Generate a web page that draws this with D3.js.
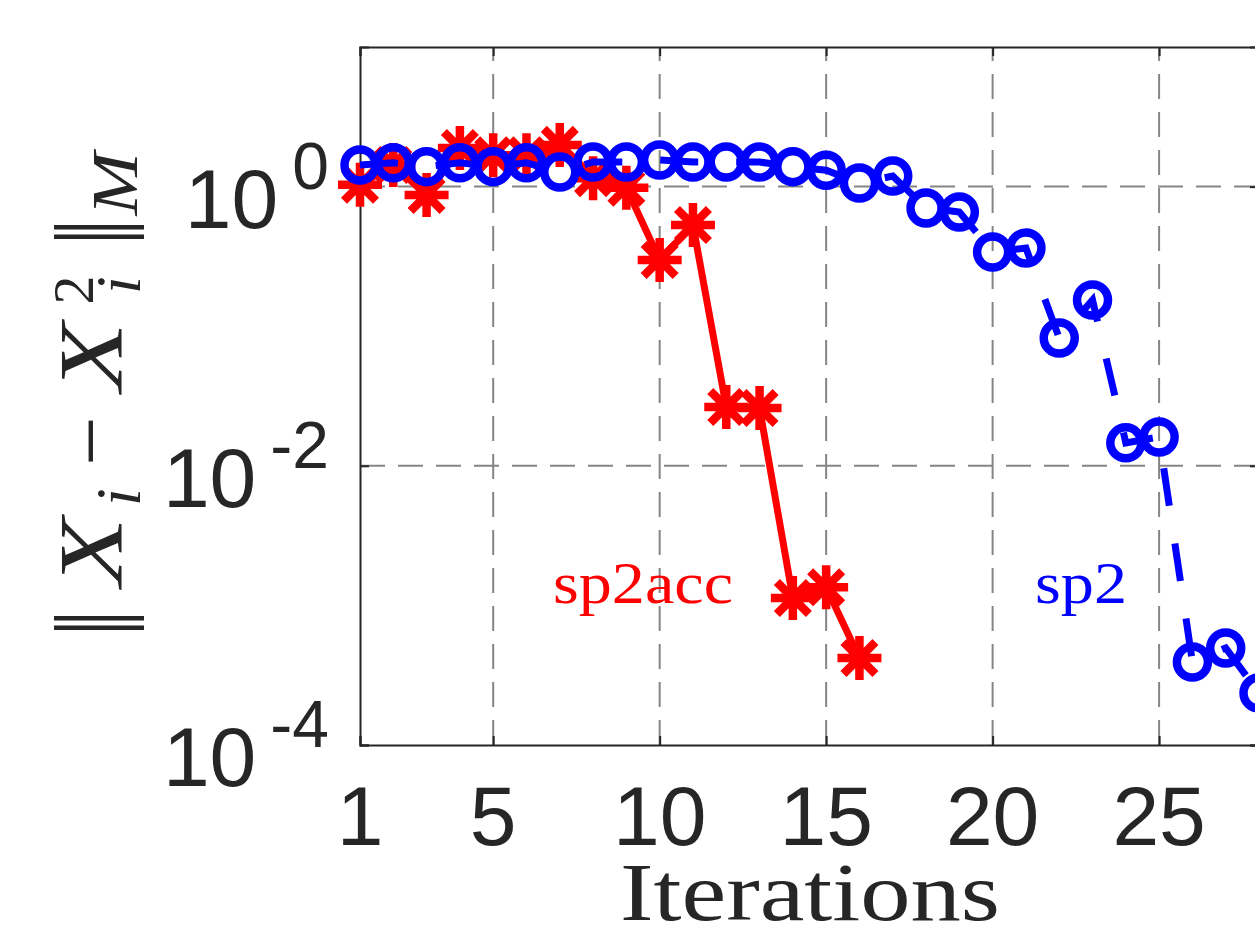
<!DOCTYPE html>
<html>
<head>
<meta charset="utf-8">
<script src="https://cdn.jsdelivr.net/npm/d3@7"></script>
<style>
  body { margin: 0; background: #fff; }
  svg { display: block; }
</style>
</head>
<body>
<svg id="chart" width="1255" height="951"></svg>
<script>
// iterations and residual norms
var itersAcc = [1,2,3,4,5,6,7,8,9,10,11,12,13,14,15,16];
var sp2acc   = [1.03,1.43,0.87,1.89,1.68,1.68,1.99,1.15,0.98,0.298,0.531,0.0264,0.0259,0.00113,0.00135,0.00042];

var itersSp2 = [1,2,3,4,5,6,7,8,9,10,11,12,13,14,15,16,17,18,19,20,21,22,23,24,25,26,27,28];
var sp2      = [1.43,1.48,1.39,1.48,1.39,1.48,1.27,1.50,1.50,1.55,1.50,1.50,1.50,1.39,1.31,1.06,1.19,0.703,0.658,0.340,0.363,0.0823,0.154,0.0146,0.0161,0.000393,0.000495,0.000236];

var xTicks = [1,5,10,15,20,25];
var yTicks = [1e-4,1e-2,1];
var yTickExp = ["-4","-2","0"];

var svg = d3.select("#chart");
var margin = {left: 360, top: 47, right: 1259, bottom: 745};

var x = d3.scaleLinear().domain([1, 28]).range([margin.left, margin.right]);
var y = d3.scaleLog().domain([1e-4, 10]).range([margin.bottom, margin.top]);

var axisColor = "#262626";
var serif = "'Liberation Serif', 'Times New Roman', serif";

/* grid */
var grid = svg.append("g");
grid.selectAll("line.gx")
    .data(xTicks.slice(1))
    .enter().append("line")
    .attr("x1", function(d){ return x(d); })
    .attr("x2", function(d){ return x(d); })
    .attr("y1", margin.bottom)
    .attr("y2", margin.top)
    .attr("stroke", "#858585")
    .attr("stroke-width", 2)
    .attr("stroke-dasharray", "25,13");
grid.selectAll("line.gy")
    .data(yTicks.slice(1))
    .enter().append("line")
    .attr("x1", margin.left)
    .attr("x2", margin.right)
    .attr("y1", function(d){ return y(d); })
    .attr("y2", function(d){ return y(d); })
    .attr("stroke", "#858585")
    .attr("stroke-width", 2)
    .attr("stroke-dasharray", "25,13");

/* axes box + inward ticks */
svg.append("g").attr("transform", "translate(0," + margin.bottom + ")")
    .call(d3.axisTop(x).tickValues(xTicks).tickSize(9).tickFormat(""));
svg.append("g").attr("transform", "translate(0," + margin.top + ")")
    .call(d3.axisBottom(x).tickValues(xTicks).tickSize(9).tickFormat(""));
svg.append("g").attr("transform", "translate(" + margin.left + ",0)")
    .call(d3.axisRight(y).tickValues(yTicks).tickSize(9).tickFormat(""));
svg.append("g").attr("transform", "translate(" + margin.right + ",0)")
    .call(d3.axisLeft(y).tickValues(yTicks).tickSize(9).tickFormat(""));
svg.selectAll(".domain").attr("stroke", axisColor).attr("stroke-width", 2);
svg.selectAll(".tick line").attr("stroke", axisColor).attr("stroke-width", 2);

/* tick labels */
svg.selectAll("text.xt")
    .data(xTicks)
    .enter().append("text")
    .attr("x", function(d){ return x(d); })
    .attr("y", margin.bottom + 100)
    .attr("text-anchor", "middle")
    .attr("font-family", "'Liberation Sans', Arial, sans-serif")
    .attr("font-size", 84)
    .attr("fill", axisColor)
    .text(function(d){ return d; });

var yl = svg.selectAll("text.yt")
    .data(yTicks)
    .enter().append("text")
    .attr("x", 329)
    .attr("y", function(d){ return y(d) + 41; })
    .attr("text-anchor", "end")
    .attr("font-family", "'Liberation Sans', Arial, sans-serif")
    .attr("font-size", 84)
    .attr("fill", axisColor);
yl.append("tspan").text("10");
yl.append("tspan")
    .attr("dx", 14)
    .attr("dy", -39)
    .attr("font-size", 66)
    .text(function(d, i){ return yTickExp[i]; });

/* series */
var line = d3.line()
    .x(function(d){ return x(d[0]); })
    .y(function(d){ return y(d[1]); });

var accData = d3.zip(itersAcc, sp2acc);
var sp2Data = d3.zip(itersSp2, sp2);

svg.append("path")
    .datum(accData)
    .attr("d", line)
    .attr("fill", "none")
    .attr("stroke", "#ff0000")
    .attr("stroke-width", 7);

svg.selectAll("g.star")
    .data(accData)
    .enter().append("path")
    .attr("transform", function(d){ return "translate(" + x(d[0]) + "," + y(d[1]) + ")"; })
    .attr("d", "M-22,0H22M0,-22V22M-16,-16L16,16M-16,16L16,-16")
    .attr("stroke", "#ff0000")
    .attr("stroke-width", 8.5)
    .attr("fill", "none");

svg.append("path")
    .datum(sp2Data)
    .attr("d", line)
    .attr("fill", "none")
    .attr("stroke", "#0000ff")
    .attr("stroke-width", 7)
    .attr("stroke-dasharray", "38,38");

svg.selectAll("circle.mk")
    .data(sp2Data)
    .enter().append("circle")
    .attr("cx", function(d){ return x(d[0]); })
    .attr("cy", function(d){ return y(d[1]); })
    .attr("r", 15.5)
    .attr("fill", "none")
    .attr("stroke", "#0000ff")
    .attr("stroke-width", 8.5);

/* series labels */
svg.append("text")
    .attr("x", 553).attr("y", 603)
    .attr("font-family", serif)
    .attr("font-size", 60)
    .attr("textLength", 180)
    .attr("lengthAdjust", "spacingAndGlyphs")
    .attr("fill", "#ff0000")
    .text("sp2acc");
svg.append("text")
    .attr("x", 1035).attr("y", 603)
    .attr("font-family", serif)
    .attr("font-size", 60)
    .attr("textLength", 92)
    .attr("lengthAdjust", "spacingAndGlyphs")
    .attr("fill", "#0000ff")
    .text("sp2");

/* x label */
svg.append("text")
    .attr("x", 620).attr("y", 920)
    .attr("font-family", serif)
    .attr("font-size", 82)
    .attr("textLength", 380)
    .attr("lengthAdjust", "spacingAndGlyphs")
    .attr("fill", axisColor)
    .text("Iterations");

/* y label, pieces placed along the rotated baseline */
var ylab = svg.append("g")
    .attr("transform", "translate(122,397) rotate(-90)")
    .attr("fill", axisColor)
    .attr("font-family", serif);
var pieces = [
    {t: "\u2016", cx: -226, by: 22, fs: 96, it: false, sx: 1,    sy: 1.35},
    {t: "X",      cx: -155, by: 0,  fs: 90, it: true,  sx: 1.25, sy: 1},
    {t: "i",      cx: -100, by: 18, fs: 64, it: true,  sx: 1,    sy: 1},
    {t: "\u2212", cx: -44,  by: -2, fs: 88, it: false, sx: 1,    sy: 1},
    {t: "X",      cx: 40,   by: 0,  fs: 90, it: true,  sx: 1.25, sy: 1},
    {t: "2",      cx: 107,  by: -29,fs: 58, it: false, sx: 1,    sy: 1},
    {t: "i",      cx: 112,  by: 18, fs: 64, it: true,  sx: 1,    sy: 1},
    {t: "\u2016", cx: 165,  by: 22, fs: 96, it: false, sx: 1,    sy: 1.35},
    {t: "M",      cx: 213,  by: 15, fs: 66, it: true,  sx: 1.15, sy: 1}
];
ylab.selectAll("text")
    .data(pieces)
    .enter().append("text")
    .attr("transform", function(d){ return "translate(" + d.cx + "," + d.by + ") scale(" + d.sx + "," + d.sy + ")"; })
    .attr("text-anchor", "middle")
    .attr("font-size", function(d){ return d.fs; })
    .attr("font-style", function(d){ return d.it ? "italic" : "normal"; })
    .text(function(d){ return d.t; });
</script>
</body>
</html>
